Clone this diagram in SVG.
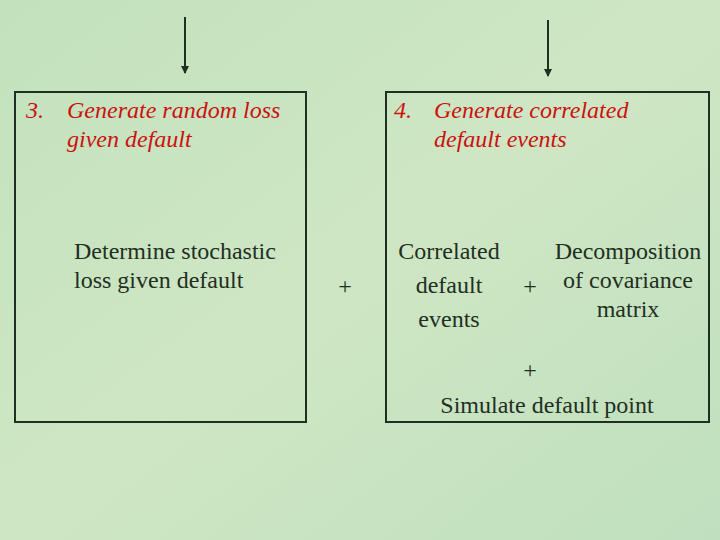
<svg xmlns="http://www.w3.org/2000/svg" width="720" height="540" viewBox="0 0 720 540" font-family="'Liberation Serif', 'Times New Roman', Times, serif">
<defs>
<linearGradient id="bg" x1="0" y1="0" x2="1" y2="1">
<stop offset="0" stop-color="#c2e2bc"/>
<stop offset="0.5" stop-color="#cfe6c4"/>
<stop offset="1" stop-color="#bfe0be"/>
</linearGradient>
<marker id="ah" markerWidth="8" markerHeight="8" refX="7" refY="4" orient="auto" markerUnits="userSpaceOnUse">
<path d="M0,0 L8,4 L0,8 Z" fill="#1f2f22"/>
</marker>
<style>
.box{fill:none;stroke:#1f2f22;stroke-width:2}
.conn{stroke:#1f2f22;stroke-width:2;fill:none}
text{font-family:'Liberation Serif','Times New Roman',Times,serif}
.title{font-style:italic;font-size:24px;fill:#cc1111}
.body{font-size:24px;fill:#1f2f22}
.mid{text-anchor:middle}
</style>
</defs>
<rect width="720" height="540" fill="url(#bg)"/>
<g id="connectors">
<line class="conn" x1="185" y1="17" x2="185" y2="73" marker-end="url(#ah)"/>
<line class="conn" x1="548" y1="20" x2="548" y2="76" marker-end="url(#ah)"/>
</g>
<g id="node3">
<rect class="box" x="15" y="92" width="291" height="330"/>
<text class="title" x="26" y="118">3.</text>
<text class="title" x="67" y="118">Generate random loss</text>
<text class="title" x="67" y="147">given default</text>
<text class="body" x="74" y="259">Determine stochastic</text>
<text class="body" x="74" y="288">loss given default</text>
</g>
<g id="plus1">
<text class="body mid" x="345" y="294">+</text>
</g>
<g id="node4">
<rect class="box" x="386" y="92" width="323" height="330"/>
<text class="title" x="394" y="118">4.</text>
<text class="title" x="434" y="118">Generate correlated</text>
<text class="title" x="434" y="147">default events</text>
<text class="body mid" x="449" y="259">Correlated</text>
<text class="body mid" x="449" y="293">default</text>
<text class="body mid" x="449" y="327">events</text>
<text class="body mid" x="530" y="294">+</text>
<text class="body mid" x="628" y="259">Decomposition</text>
<text class="body mid" x="628" y="288">of covariance</text>
<text class="body mid" x="628" y="317">matrix</text>
<text class="body mid" x="530" y="378">+</text>
<text class="body mid" x="547" y="413">Simulate default point</text>
</g>
</svg>
